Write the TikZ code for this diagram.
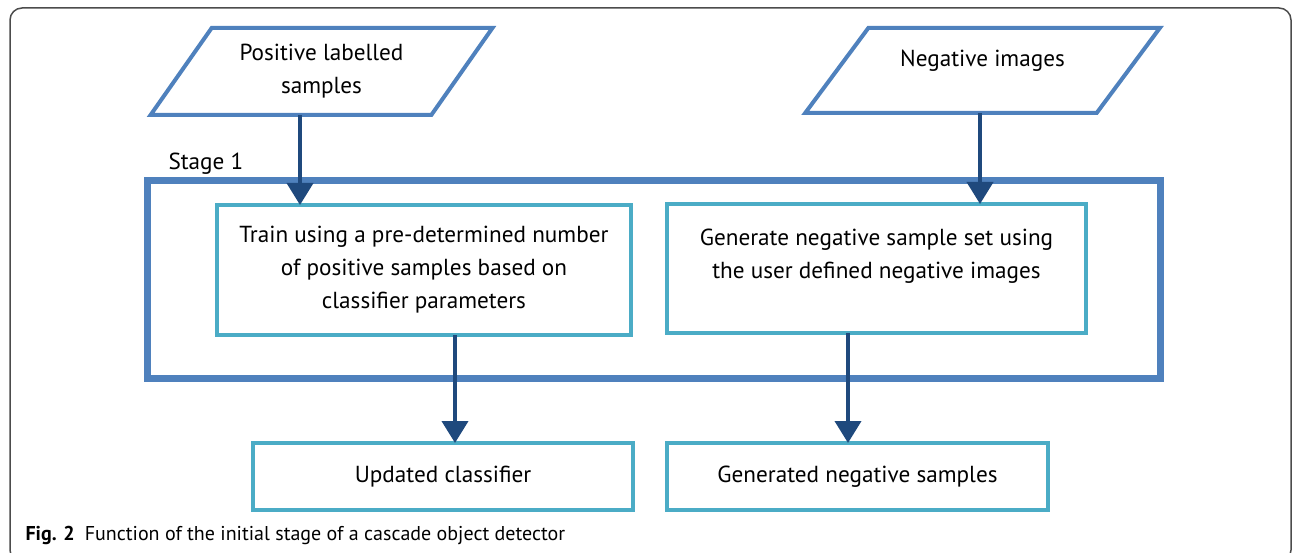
\documentclass[tikz,border=0pt]{standalone}
\usepackage{fontspec}
\setmainfont{PT Sans}
\usetikzlibrary{shapes.geometric,arrows.meta}
\definecolor{inblue}{RGB}{79,129,189}
\definecolor{boxteal}{RGB}{75,172,198}
\definecolor{arrowblue}{RGB}{31,73,125}
\tikzset{
  inputbox/.style={draw=inblue,line width=4pt,trapezium,trapezium left angle=52,
    trapezium right angle=128,trapezium stretches=true,minimum width=343pt,
    minimum height=87pt,align=center,outer sep=0pt},
  stagebox/.style={draw=inblue,line width=7pt,minimum width=1013pt,minimum height=197pt,outer sep=0pt},
  procbox/.style={draw=boxteal,line width=4pt,align=center,outer sep=0pt},
  flow/.style={draw=arrowblue,line width=4pt,-{Triangle[width=26pt,length=22pt]}},
}
\begin{document}
\begin{tikzpicture}[x=1pt,y=-1pt,font=\fontsize{23.2}{33}\selectfont]
  \clip (0,0) rectangle (1293,553);
  \draw[black!70,line width=1.5pt,rounded corners=12pt] (10,8) rectangle (1291,562);
  \draw
    (321.5,71.5) node[inputbox] (pos) {Positive labelled\\samples}
    (982.5,70.5) node[inputbox,minimum width=355pt,minimum height=85pt,
      text height=23.5pt,text depth=30.5pt] (neg) {Negative images}
    (653.5,279.5) node[stagebox] (stage) {}
    (424,270) node[procbox,minimum width=414pt,minimum height=130pt] (train)
      {Train using a pre-determined number\\of positive samples based on\\classifier parameters}
    (876.5,268.5) node[procbox,minimum width=419pt,minimum height=129pt] (gen) {}
    (443,476.5) node[procbox,minimum width=380pt,minimum height=67pt] (upd) {Updated classifier}
    (857.5,476.5) node[procbox,minimum width=381pt,minimum height=67pt] (negs) {Generated negative samples};
  \node[align=center] (gentxt) at ([yshift=12pt]gen.center)
    {Generate negative sample set using\\the user defined negative images};
  \node[anchor=base west] (stagelbl) at ([xshift=18pt,yshift=11pt]stage.north west) {Stage 1};
  \node[anchor=base west,font=\fontsize{20}{24}\selectfont] (cap) at (22,540)
    {\textbf{Fig. 2}\enspace Function of the initial stage of a cascade object detector};
  \begin{scope}[flow]
    \draw ([xshift=-21.5pt]pos.south) -- ([xshift=-21.5pt]pos.south |- train.north);
    \draw ([xshift=-2.5pt]neg.south) -- ([xshift=-2.5pt]neg.south |- gen.north);
    \draw ([xshift=31pt]train.south) -- ([xshift=31pt]train.south |- upd.north);
    \draw ([xshift=-28.5pt]gen.south) -- ([xshift=-28.5pt]gen.south |- negs.north);
  \end{scope}
\end{tikzpicture}
\end{document}
